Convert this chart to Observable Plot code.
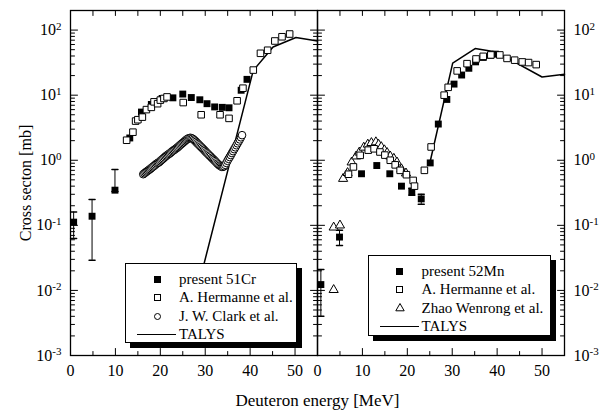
<!DOCTYPE html>
<html><head><meta charset="utf-8">
<script src="https://cdn.jsdelivr.net/npm/d3@7"></script>
<script src="https://cdn.jsdelivr.net/npm/@observablehq/plot@0.6"></script>
<style>
body{margin:0;background:#fff;}
#wrap{position:relative;width:607px;height:414px;font-family:"Liberation Serif","Times New Roman",serif;}
.legend{position:absolute;background:#fff;border:1px solid #000;box-shadow:5px 5px 0 #000;box-sizing:border-box;}
.row{position:absolute;left:0;height:18px;font-size:15px;line-height:18px;white-space:nowrap;}
.sym{position:absolute;box-sizing:border-box;}
</style></head><body><div id="wrap"></div>
<script>
// ---------- data (energy MeV, cross section mb) ----------
const panels = ["Cr", "Mn"];
const yTickValues = [1e-3, 1e-2, 1e-1, 1, 10, 100];
const xTickValues = [0, 10, 20, 30, 40, 50];
const xMinorValues = [5, 15, 25, 35, 45];
const xTopValues = [5, 10, 15, 20, 25, 30, 35, 40, 45, 50];

const crPresent = [[0.7,0.112],[4.8,0.138],[9.9,0.347],[13.2,2.2],[15.8,5.5],[18.0,7.2],[20.4,8.9],[22.8,9.1],[25.0,10.4],[26.9,9.2],[28.8,8.5],[30.4,7.4],[32.1,6.6],[33.8,6.5],[35.3,6.4],[38.0,11.9],[39.3,17.5]];
const crPresentErr = [[0.7,0.063,0.16],[4.8,0.029,0.25],[9.9,0.33,0.72]];
const crHermanne = [[12.5,2.03],[13.9,2.7],[14.5,4.0],[15.0,4.2],[16.0,4.6],[16.9,6.0],[18.0,6.5],[18.6,7.9],[19.4,7.4],[20.0,8.4],[20.8,8.9],[21.5,9.4],[25.1,7.7],[29.1,5.0],[33.3,5.0],[35.3,4.4],[37.1,8.2],[38.4,12.8],[40.7,24.3],[42.3,44],[43.9,49],[45.5,68],[47.1,79],[48.8,87]];
const crClark = [[16.2,0.61],[16.45,0.63],[16.7,0.65],[16.95,0.67],[17.2,0.69],[17.45,0.71],[17.7,0.73],[17.95,0.755],[18.2,0.78],[18.45,0.805],[18.7,0.83],[18.95,0.86],[19.2,0.89],[19.45,0.91],[19.7,0.93],[19.95,0.965],[20.2,1.0],[20.45,1.035],[20.7,1.07],[20.95,1.11],[21.2,1.15],[21.45,1.185],[21.7,1.22],[21.95,1.255],[22.2,1.29],[22.45,1.335],[22.7,1.38],[22.95,1.42],[23.2,1.46],[23.45,1.505],[23.7,1.55],[23.95,1.6],[24.2,1.66],[24.45,1.72],[24.7,1.78],[24.95,1.84],[25.2,1.90],[25.45,1.97],[25.7,2.04],[25.95,2.1],[26.2,2.16],[26.45,2.19],[26.7,2.21],[26.95,2.18],[27.2,2.14],[27.45,2.07],[27.7,2.0],[27.95,1.92],[28.2,1.84],[28.45,1.77],[28.7,1.70],[28.95,1.63],[29.2,1.57],[29.45,1.51],[29.7,1.45],[29.95,1.39],[30.2,1.33],[30.45,1.28],[30.7,1.23],[30.95,1.18],[31.2,1.14],[31.45,1.09],[31.7,1.05],[31.95,1.01],[32.2,0.97],[32.45,0.93],[32.7,0.89],[32.95,0.86],[33.2,0.83],[33.45,0.81],[33.7,0.79],[33.95,0.79],[34.2,0.81],[34.45,0.85],[34.7,0.91],[34.95,0.98],[35.2,1.05],[35.45,1.12],[35.7,1.20],[35.95,1.29],[36.2,1.38],[36.45,1.48],[36.7,1.58],[36.95,1.70],[37.2,1.82],[37.45,1.95],[37.7,2.09],[37.95,2.25],[38.2,2.43]];
const crTalys = [[26.0,0.0025],[40.7,24],[45.1,55],[50.2,77],[55.0,68]];

const mnPresent = [[0.75,0.0123],[4.9,0.066],[9.8,0.62],[13.2,0.83],[16.1,0.62],[18.7,0.40],[21.0,0.33],[23.1,0.255],[25.1,0.91],[26.9,3.6],[28.8,8.6],[30.4,14.8],[32.1,20.4],[33.7,25.9],[35.2,32.5],[36.9,38],[38.5,41],[39.6,42.7]];
const mnPresentErr = [[0.75,0.004,0.021],[4.9,0.049,0.084],[21.0,0.29,0.37],[23.1,0.21,0.30]];
const mnHermanne = [[6.9,0.61],[8.0,0.79],[9.5,1.19],[11.3,1.43],[12.6,1.5],[13.9,1.34],[15.0,1.2],[16.2,1.0],[17.3,0.85],[18.4,0.70],[19.8,0.6],[21.3,0.49],[21.6,0.40],[23.8,0.70],[25.3,1.6],[28.2,10],[29.1,13.2],[31.1,23.6],[33.3,30.5],[35.3,36],[36.9,39.5],[38.6,41.5],[40.6,41.5],[42.2,36.7],[43.9,34.5],[45.6,32.4],[47.0,31.7],[48.7,29.5]];
const mnZhao = [[3.6,0.0102],[3.6,0.093],[5.0,0.10],[5.7,0.52],[6.7,0.64],[7.6,0.93],[8.6,1.15],[9.3,1.32],[10.3,1.57],[11.2,1.75],[12.0,1.85],[13.0,1.9],[13.6,1.74],[14.2,1.6],[14.9,1.43],[15.5,1.3],[16.2,1.15],[17.0,1.06],[17.7,0.93],[18.7,0.73],[19.7,0.63]];
const mnTalys = [[25.0,0.9],[30.1,31],[35.1,52],[39.8,46],[50.0,19],[55.0,21]];

const legendCr = ["present 51Cr", "A. Hermanne et al.", "J. W. Clark et al.", "TALYS"];
const legendMn = ["present 52Mn", "A. Hermanne et al.", "Zhao Wenrong et al.", "TALYS"];

// ---------- tables ----------
const tab = (arr, panel) => arr.map(d => ({E: d[0], v: d[1], panel}));
const errTab = (arr, panel) => arr.map(d => ({E: d[0], lo: d[1], hi: d[2], panel}));
const present = [...tab(crPresent, "Cr"), ...tab(mnPresent, "Mn")];
const presentErr = [...errTab(crPresentErr, "Cr"), ...errTab(mnPresentErr, "Mn")];
const hermanne = [...tab(crHermanne, "Cr"), ...tab(mnHermanne, "Mn")];
const clark = tab(crClark, "Cr");
const zhao = tab(mnZhao, "Mn");
const talysCr = tab(crTalys, "Cr");
const talysMn = tab(mnTalys, "Mn");

const yMinor = [];
for (let e = -3; e <= 2; e++) for (let m = 2; m <= 9; m++) { const v = m * Math.pow(10, e); if (v <= 200) yMinor.push(v); }

const tickShape = {draw(ctx, l) { ctx.moveTo(0, 0); ctx.lineTo(0, -l); }};
const V = (data, opts) => Plot.vector(data, {shape: tickShape, anchor: "start", stroke: "black", strokeWidth: 1, ...opts});
const fmt = d => `10^${Math.round(Math.log10(d))}`;

const chart = Plot.plot({
  width: 607, height: 414,
  marginLeft: 70, marginRight: 43, marginTop: 10, marginBottom: 59,
  style: {fontFamily: "'Liberation Serif','Times New Roman',serif", fontSize: "16px", color: "black", background: "white", overflow: "visible"},
  fx: {domain: panels, padding: 0},
  x: {domain: [0, 55]},
  y: {type: "log", domain: [1e-3, 200]},
  marks: [
    Plot.axisY({anchor: "left", ticks: yTickValues, tickSize: 0, tickPadding: 9, tickFormat: fmt, label: "Cross secton [mb]", labelArrow: false, labelAnchor: "center", labelOffset: 51}),
    Plot.axisY({anchor: "right", ticks: yTickValues, tickSize: 0, tickPadding: 9, tickFormat: fmt, label: null}),
    Plot.axisX({anchor: "bottom", ticks: xTickValues, tickSize: 0, tickPadding: 9, label: null}),
    Plot.axisFx({anchor: "bottom", tickSize: 0, tickFormat: () => "", label: "Deuteron energy [MeV]", labelArrow: false, labelAnchor: "center", labelOffset: 50}),
    V(yTickValues, {y: d => d, frameAnchor: "left", rotate: 90, length: 7}),
    V(yMinor, {y: d => d, frameAnchor: "left", rotate: 90, length: 4}),
    V(yTickValues, {y: d => d, frameAnchor: "right", rotate: -90, length: 7}),
    V(yMinor, {y: d => d, frameAnchor: "right", rotate: -90, length: 4}),
    V(xTickValues, {x: d => d, frameAnchor: "bottom", rotate: 0, length: 7}),
    V(xMinorValues, {x: d => d, frameAnchor: "bottom", rotate: 0, length: 4}),
    V(xTopValues, {x: d => d, frameAnchor: "top", rotate: 180, length: 5}),
    Plot.line(talysCr, {x: "E", y: "v", fx: "panel", stroke: "black", strokeWidth: 1.5}),
    Plot.line(talysMn, {x: "E", y: "v", fx: "panel", stroke: "black", strokeWidth: 1.5}),
    Plot.dot(clark, {x: "E", y: "v", fx: "panel", r: 3.8, fill: "white", stroke: "black", strokeWidth: 1}),
    Plot.ruleX(presentErr, {x: "E", y1: "lo", y2: "hi", fx: "panel", stroke: "black", strokeWidth: 1}),
    Plot.vector(presentErr, {x: "E", y: "lo", fx: "panel", rotate: 90, length: 6, anchor: "middle", shape: tickShape, stroke: "black"}),
    Plot.vector(presentErr, {x: "E", y: "hi", fx: "panel", rotate: 90, length: 6, anchor: "middle", shape: tickShape, stroke: "black"}),
    Plot.dot(zhao, {x: "E", y: "v", fx: "panel", symbol: "triangle", r: 3.4, fill: "white", stroke: "black", strokeWidth: 1}),
    Plot.dot(present, {x: "E", y: "v", fx: "panel", symbol: "square", r: 3.9, fill: "black"}),
    Plot.dot(hermanne, {x: "E", y: "v", fx: "panel", symbol: "square", r: 3.7, fill: "white", stroke: "black", strokeWidth: 1}),
    Plot.frame({stroke: "black", strokeWidth: 1.3})
  ]
});

// superscript exponents on y tick labels; strip any label arrows
const ns = "http://www.w3.org/2000/svg";
chart.querySelectorAll('g[aria-label="y-axis tick label"] text').forEach(t => {
  const parts = t.textContent.split("^");
  if (parts.length < 2) return;
  t.textContent = "";
  const a = document.createElementNS(ns, "tspan"); a.textContent = parts[0];
  const b = document.createElementNS(ns, "tspan"); b.textContent = parts[1];
  b.setAttribute("dy", "-0.5em"); b.setAttribute("font-size", "11");
  t.append(a, b);
});
chart.querySelectorAll('g[aria-label="y-axis label"] text').forEach(t => {
  t.textContent = t.textContent.replace(/\s*[↑→↓←]\s*/g, "").trim();
  t.setAttribute("font-size", "16");
});
chart.querySelectorAll('g[aria-label="fx-axis label"] text').forEach(t => {
  t.textContent = t.textContent.replace(/\s*[↑→↓←]\s*/g, "").trim();
  t.setAttribute("font-size", "17");
});

const wrap = document.getElementById("wrap");
wrap.appendChild(chart);

// ---------- legends (overlaid inside plot area) ----------
const legendBoxes = [
  {labels: legendCr, syms: ["filled", "open", "circle", "line"], left: 125, top: 263, width: 172, height: 80, symX: 31.5, textX: 53, lineX: [11, 50]},
  {labels: legendMn, syms: ["filled", "open", "triangle", "line"], left: 368, top: 255, width: 183, height: 81, symX: 30.5, textX: 52.5, lineX: [10.5, 50]}
];
legendBoxes.forEach(L => {
  const box = document.createElement("div");
  box.className = "legend";
  Object.assign(box.style, {left: L.left + "px", top: L.top + "px", width: L.width + "px", height: L.height + "px"});
  L.labels.forEach((lab, i) => {
    const cy = 15 + i * 18.5;
    const s = L.syms[i];
    if (s === "triangle") {
      const tri = document.createElementNS(ns, "svg");
      tri.setAttribute("width", "12"); tri.setAttribute("height", "12");
      tri.setAttribute("style", `position:absolute;left:${L.symX - 6}px;top:${cy - 6}px;overflow:visible`);
      const p = document.createElementNS(ns, "path");
      p.setAttribute("d", "M6,1.5 L10.2,8.8 L1.8,8.8 Z");
      p.setAttribute("fill", "#fff"); p.setAttribute("stroke", "#000"); p.setAttribute("stroke-width", "1");
      tri.appendChild(p);
      box.appendChild(tri);
    } else {
      const sym = document.createElement("div");
      sym.className = "sym";
      if (s === "line") {
        Object.assign(sym.style, {left: L.lineX[0] + "px", top: (cy - 0.75) + "px", width: (L.lineX[1] - L.lineX[0]) + "px", height: "1.5px", background: "#000"});
      } else {
        Object.assign(sym.style, {left: (L.symX - 3.5) + "px", top: (cy - 3.5) + "px", width: "7px", height: "7px"});
        if (s === "filled") sym.style.background = "#000";
        else { sym.style.border = "1px solid #000"; sym.style.background = "#fff"; }
        if (s === "circle") sym.style.borderRadius = "50%";
      }
      box.appendChild(sym);
    }
    const row = document.createElement("div");
    row.className = "row";
    Object.assign(row.style, {left: L.textX + "px", top: (cy - 9.5) + "px"});
    row.textContent = lab;
    box.appendChild(row);
  });
  wrap.appendChild(box);
});
</script></body></html>
